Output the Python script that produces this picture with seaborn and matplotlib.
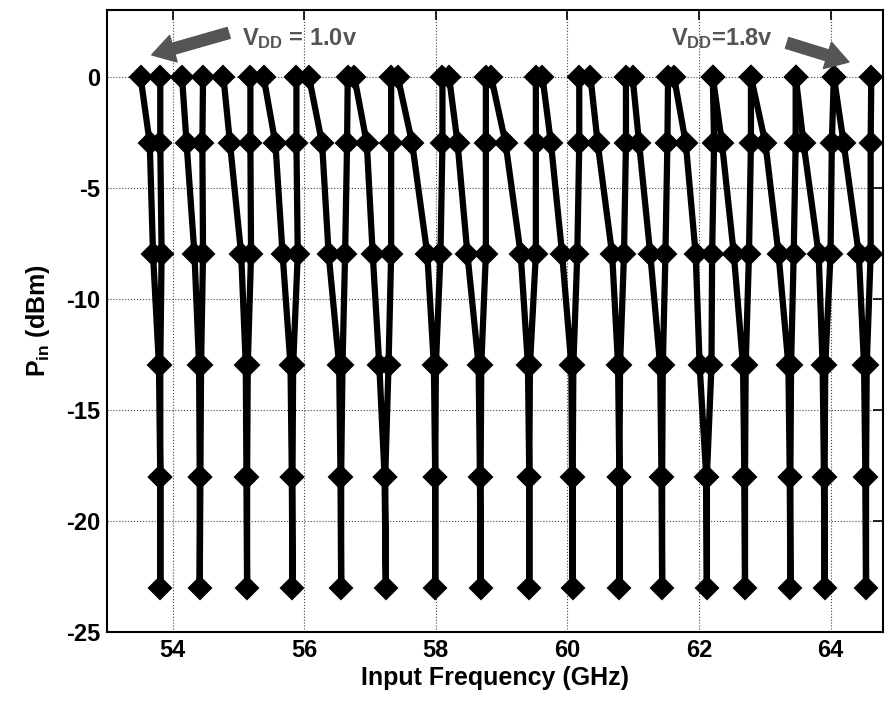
import numpy as np
import pandas as pd
import matplotlib
matplotlib.use('Agg')
import matplotlib.pyplot as plt
import seaborn as sns

# Pin levels walked along each curve: down the left edge, then back up the right edge
pin_levels = [0, -3, -8, -13, -18, -23, -18, -13, -8, -3, 0]

# input frequency (GHz) of every point, one list per supply voltage (1.0v ... 1.8v)
freq_c01 = [53.51, 53.65, 53.70, 53.79, 53.81, 53.81, 53.81, 53.81, 53.83, 53.81, 53.81]
freq_c02 = [54.14, 54.21, 54.33, 54.40, 54.41, 54.41, 54.42, 54.43, 54.46, 54.45, 54.46]
freq_c03 = [54.77, 54.87, 55.04, 55.11, 55.12, 55.13, 55.13, 55.14, 55.19, 55.18, 55.18]
freq_c04 = [55.38, 55.56, 55.67, 55.79, 55.81, 55.82, 55.82, 55.83, 55.90, 55.88, 55.88]
freq_c05 = [56.07, 56.27, 56.37, 56.53, 56.55, 56.56, 56.56, 56.58, 56.62, 56.65, 56.66]
freq_c06 = [56.76, 56.95, 57.04, 57.14, 57.22, 57.24, 57.23, 57.28, 57.32, 57.32, 57.32]
freq_c07 = [57.42, 57.64, 57.87, 57.97, 57.99, 57.99, 57.99, 58.00, 58.07, 58.10, 58.10]
freq_c08 = [58.20, 58.33, 58.48, 58.65, 58.67, 58.68, 58.68, 58.69, 58.76, 58.76, 58.76]
freq_c09 = [58.84, 59.06, 59.29, 59.40, 59.42, 59.42, 59.42, 59.43, 59.52, 59.52, 59.52]
freq_c10 = [59.62, 59.75, 59.92, 60.06, 60.07, 60.08, 60.08, 60.09, 60.15, 60.18, 60.18]
freq_c11 = [60.35, 60.46, 60.68, 60.77, 60.79, 60.79, 60.79, 60.80, 60.86, 60.89, 60.89]
freq_c12 = [60.99, 61.09, 61.26, 61.41, 61.43, 61.44, 61.44, 61.45, 61.49, 61.52, 61.53]
freq_c13 = [61.62, 61.80, 61.95, 62.01, 62.11, 62.12, 62.12, 62.19, 62.20, 62.23, 62.21]
freq_c14 = [62.21, 62.35, 62.53, 62.67, 62.69, 62.70, 62.70, 62.71, 62.76, 62.79, 62.79]
freq_c15 = [62.79, 63.01, 63.21, 63.36, 63.38, 63.39, 63.39, 63.40, 63.44, 63.47, 63.47]
freq_c16 = [63.47, 63.59, 63.82, 63.88, 63.90, 63.91, 63.91, 63.92, 64.00, 64.02, 64.05]
freq_c17 = [64.05, 64.20, 64.43, 64.51, 64.53, 64.54, 64.54, 64.55, 64.61, 64.61, 64.62]

curves = [freq_c01, freq_c02, freq_c03, freq_c04, freq_c05, freq_c06, freq_c07,
          freq_c08, freq_c09, freq_c10, freq_c11, freq_c12, freq_c13, freq_c14,
          freq_c15, freq_c16, freq_c17]

x_ticks = [54, 56, 58, 60, 62, 64]
y_ticks = [0, -5, -10, -15, -20, -25]

rows = []
for k, fr in enumerate(curves):
    for f, p in zip(fr, pin_levels):
        rows.append({'curve': k, 'freq': f, 'pin': p})
df = pd.DataFrame(rows)

sns.set_theme(style='white')
plt.rcParams['font.family'] = ['Liberation Sans', 'DejaVu Sans']
plt.rcParams['font.weight'] = 'bold'
plt.rcParams['text.color'] = 'black'
plt.rcParams['axes.labelcolor'] = 'black'
plt.rcParams['axes.unicode_minus'] = False
plt.rcParams['mathtext.fontset'] = 'custom'
plt.rcParams['mathtext.rm'] = 'Liberation Sans:bold'
plt.rcParams['mathtext.it'] = 'Liberation Sans:bold'
plt.rcParams['mathtext.bf'] = 'Liberation Sans:bold'

fig = plt.figure(figsize=(8.85, 7.02), dpi=100)
ax = fig.add_axes([0.1209, 0.0997, 0.877, 0.886])

sns.lineplot(data=df, x='freq', y='pin', units='curve', estimator=None, sort=False,
             color='black', marker='D', markersize=11.5, markeredgewidth=1.5,
             markeredgecolor='black', linewidth=4.5, legend=False, ax=ax)

ax.set_xlim(53, 64.8)
ax.set_ylim(-25, 3)
ax.set_xticks(x_ticks)
ax.set_yticks(y_ticks)
ax.grid(True, linestyle=':', color='#444444', linewidth=0.8)
ax.tick_params(direction='in', length=7, width=1.2, top=True, right=True,
               labelsize=17, colors='black', labelcolor='black', pad=5)
for lab in ax.get_xticklabels() + ax.get_yticklabels():
    lab.set_fontweight('bold')
for s in ax.spines.values():
    s.set_color('black')
    s.set_linewidth(1.5)

ax.set_xlabel('Input Frequency (GHz)', fontsize=18, fontweight='bold',
              color='black', labelpad=3)
ax.set_ylabel(r'$P_{in}$ (dBm)', fontsize=18, fontweight='bold',
              color='black', labelpad=10)

gray = '#555555'
arrow = dict(arrowstyle='simple,head_length=0.9,head_width=1.1,tail_width=0.45',
             color=gray, mutation_scale=18, shrinkA=0, shrinkB=0)
ax.annotate('', xy=(53.68, 0.98), xytext=(54.85, 1.97), arrowprops=arrow)
ax.annotate('', xy=(64.28, 0.66), xytext=(63.34, 1.52), arrowprops=arrow)
ax.text(55.06, 1.43, r'$V_{DD}$ = 1.0v', fontsize=17, color=gray, fontweight='bold')
ax.text(61.58, 1.43, r'$V_{DD}$=1.8v', fontsize=17, color=gray, fontweight='bold')

fig.savefig('out.png', dpi=100)
